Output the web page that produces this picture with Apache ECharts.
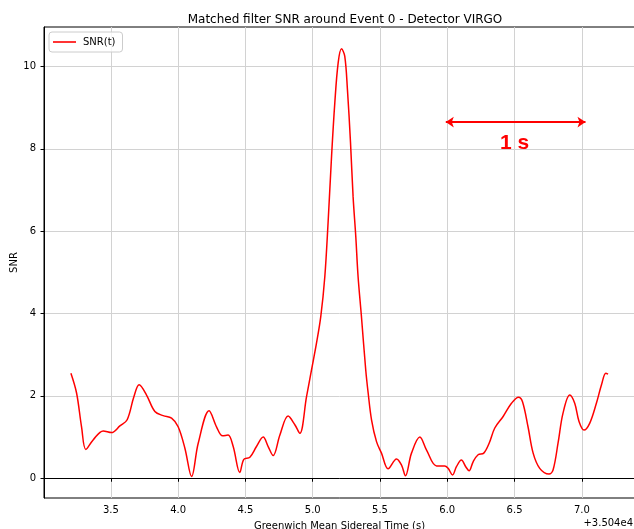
<!DOCTYPE html>
<html>
<head>
<meta charset="utf-8">
<script src="https://cdn.jsdelivr.net/npm/echarts@6/dist/echarts.min.js"></script>
<style>
  html, body { margin: 0; padding: 0; background: #ffffff; }
  #chart { width: 634px; height: 529px; }
</style>
</head>
<body>
<div id="chart"></div>
<script>
// Time relative to the 3.504e4 s offset (GMST, seconds)
const timeOffset = [
  3.203, 3.245, 3.282, 3.314, 3.368, 3.443, 3.505, 3.567, 3.621, 3.671,
  3.710, 3.765, 3.827, 3.889, 3.951, 4.000, 4.050, 4.100, 4.149, 4.230,
  4.285, 4.330, 4.371, 4.409, 4.458, 4.488, 4.533, 4.582, 4.632, 4.669,
  4.706, 4.756, 4.817, 4.867, 4.904, 4.954, 4.991, 5.028, 5.060, 5.090,
  5.114, 5.140, 5.164, 5.189, 5.214, 5.238, 5.258, 5.281, 5.300, 5.320,
  5.337, 5.362, 5.394, 5.412, 5.437, 5.474, 5.511, 5.560, 5.623, 5.660,
  5.689, 5.734, 5.796, 5.845, 5.920, 5.981, 6.006, 6.039, 6.068, 6.105,
  6.137, 6.162, 6.192, 6.229, 6.271, 6.311, 6.353, 6.415, 6.477, 6.529,
  6.559, 6.600, 6.638, 6.687, 6.756, 6.786, 6.823, 6.860, 6.910, 6.947,
  6.979, 7.016, 7.059, 7.108, 7.146, 7.178, 7.195
];

// Matched filter SNR at each time sample
const snrValues = [
  2.55, 2.07, 1.25, 0.70, 0.93, 1.15, 1.11, 1.27, 1.42, 1.98,
  2.27, 2.02, 1.62, 1.52, 1.46, 1.25, 0.73, 0.04, 0.85, 1.64,
  1.25, 1.03, 1.05, 0.77, 0.14, 0.46, 0.51, 0.77, 1.00, 0.77,
  0.55, 1.05, 1.51, 1.30, 1.09, 1.98, 2.63, 3.28, 3.93, 4.90,
  6.20, 7.82, 9.11, 10.09, 10.43, 10.25, 9.44, 8.14, 6.84, 5.87,
  4.90, 3.93, 2.63, 2.07, 1.42, 0.89, 0.61, 0.23, 0.47, 0.32,
  0.06, 0.61, 1.00, 0.69, 0.30, 0.30, 0.24, 0.08, 0.28, 0.44,
  0.28, 0.18, 0.40, 0.57, 0.61, 0.85, 1.22, 1.50, 1.82, 1.97,
  1.86, 1.25, 0.61, 0.24, 0.10, 0.20, 0.85, 1.58, 2.02, 1.82,
  1.38, 1.17, 1.34, 1.82, 2.27, 2.55, 2.53
];

const xTickValues = [3.5, 4.0, 4.5, 5.0, 5.5, 6.0, 6.5, 7.0];
const yTickValues = [0, 2, 4, 6, 8, 10];

// One-second scale bar and its caption (data coordinates)
const scaleBarEnds = [[5.989, 8.65], [7.027, 8.65]];
const scaleBarCaption = '1 s';
const scaleBarCaptionAt = [6.5, 8.13];

const FONT = 'DejaVu Sans';
const RED = '#ff0000';

const chart = echarts.init(document.getElementById('chart'), null, { renderer: 'canvas' });

chart.setOption({
  animation: false,
  backgroundColor: '#ffffff',
  title: {
    text: 'Matched filter SNR around Event 0 - Detector VIRGO',
    left: 340,
    top: 9,
    textAlign: 'center',
    textStyle: { fontFamily: FONT, fontSize: 12, fontWeight: 'normal', color: '#000000' }
  },
  legend: {
    left: 49,
    top: 32,
    orient: 'vertical',
    padding: [5, 7, 5, 4],
    itemWidth: 23,
    itemHeight: 1.6,
    icon: 'rect',
    borderColor: '#cccccc',
    borderWidth: 1,
    borderRadius: 3,
    backgroundColor: 'rgba(255,255,255,0.8)',
    textStyle: { fontFamily: FONT, fontSize: 10, color: '#000000', padding: [0, 0, 0, 2], lineHeight: 10 },
    data: ['SNR(t)']
  },
  grid: {
    left: 44,
    top: 27,
    width: 591,
    height: 471,
    show: true,
    borderColor: '#000000',
    borderWidth: 1,
    backgroundColor: 'transparent',
    containLabel: false,
    outerBoundsMode: 'none'
  },
  xAxis: {
    type: 'value',
    min: 3.003,
    max: 7.395,
    name: 'Greenwich Mean Sidereal Time (s)',
    nameLocation: 'middle',
    nameGap: 23.5,
    nameTextStyle: { fontFamily: FONT, fontSize: 10, color: '#000000' },
    axisLine: { show: true, lineStyle: { color: '#000000', width: 1 } },
    axisTick: { show: true, inside: false, length: 3.5, customValues: xTickValues, lineStyle: { color: '#000000' } },
    axisLabel: {
      customValues: xTickValues,
      margin: 7,
      fontFamily: FONT, fontSize: 10, color: '#000000',
      formatter: v => v.toFixed(1)
    },
    splitLine: { show: true, lineStyle: { color: '#d2d2d2', width: 1 } }
  },
  yAxis: {
    type: 'value',
    min: -0.48,
    max: 10.96,
    name: 'SNR',
    nameLocation: 'middle',
    nameGap: 25,
    nameRotate: 90,
    nameMoveOverlap: false,
    nameTextStyle: { fontFamily: FONT, fontSize: 10, color: '#000000' },
    axisLine: { show: true, lineStyle: { color: '#000000', width: 1 } },
    axisTick: { show: true, inside: false, length: 3.5, customValues: yTickValues, lineStyle: { color: '#000000' } },
    axisLabel: {
      customValues: yTickValues,
      margin: 8,
      fontFamily: FONT, fontSize: 10, color: '#000000'
    },
    splitLine: { show: true, lineStyle: { color: '#d2d2d2', width: 1 } }
  },
  graphic: [{
    type: 'text',
    right: 1,
    top: 518,
    style: { text: '+3.504e4', font: '10px "DejaVu Sans"', fill: '#000000' }
  }],
  series: [{
    name: 'SNR(t)',
    type: 'line',
    data: timeOffset.map((t, i) => [t, snrValues[i]]),
    symbol: 'none',
    smooth: 0.35,
    lineStyle: { color: RED, width: 1.5 },
    itemStyle: { color: RED },
    z: 3,
    markLine: {
      silent: true,
      symbol: ['arrow', 'arrow'],
      symbolSize: [8, 8],
      label: { show: false },
      lineStyle: { color: RED, width: 2, type: 'solid' },
      data: [[{ coord: scaleBarEnds[0] }, { coord: scaleBarEnds[1] }]]
    },
    markPoint: {
      silent: true,
      symbol: 'circle',
      symbolSize: 1,
      itemStyle: { color: 'transparent' },
      label: {
        show: true,
        position: 'inside',
        formatter: scaleBarCaption,
        fontFamily: 'Liberation Sans',
        fontWeight: 'bold',
        fontSize: 21,
        color: RED
      },
      data: [{ coord: scaleBarCaptionAt }]
    }
  }]
});
</script>
</body>
</html>
